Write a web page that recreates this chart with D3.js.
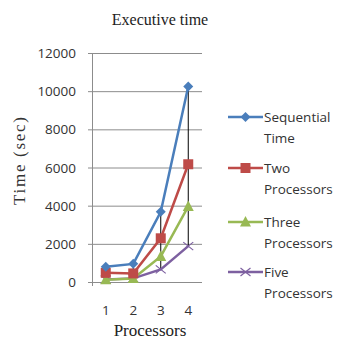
<!doctype html>
<html lang="en">
<head>
  <meta charset="utf-8">
  <style>
    body { margin: 0; background: #fff; }
    svg { display: block; }
  </style>
</head>
<body>
  <div id="chart"></div>
  <script src="https://d3js.org/d3.v7.min.js"></script>
  <script>
    // data
    var processors = ["1", "2", "3", "4"];
    var sequentialTime = [800, 950, 3680, 10250];
    var twoProcessors = [480, 450, 2290, 6170];
    var threeProcessors = [120, 180, 1340, 3960];
    var fiveProcessors = [130, 190, 660, 1880];
    var yTicks = [0, 2000, 4000, 6000, 8000, 10000, 12000];
    var seriesNames = [["Sequential", "Time"], ["Two", "Processors"], ["Three", "Processors"], ["Five", "Processors"]];

    var series = [
      { name: seriesNames[0], values: sequentialTime, color: "#4a7ebb", marker: "diamond" },
      { name: seriesNames[1], values: twoProcessors, color: "#be4b48", marker: "square" },
      { name: seriesNames[2], values: threeProcessors, color: "#98b954", marker: "triangle" },
      { name: seriesNames[3], values: fiveProcessors, color: "#7d60a0", marker: "x" }
    ];

    var width = 339, height = 339;
    var plot = { left: 92, right: 202, top: 53, bottom: 282 };
    var sans = "'Open Sans', Lato, sans-serif";

    var svg = d3.select("#chart").append("svg")
      .attr("width", width).attr("height", height);

    var x = d3.scaleBand().domain(processors).range([plot.left, plot.right]);
    var y = d3.scaleLinear().domain([0, 12000]).range([plot.bottom, plot.top]);

    // gridlines
    svg.append("g").selectAll("line").data(yTicks).enter().append("line")
      .attr("x1", plot.left - 4).attr("x2", plot.right)
      .attr("y1", d => y(d) + 0.5).attr("y2", d => y(d) + 0.5)
      .attr("stroke", "#8c8c8c").attr("stroke-width", 1);

    // y axis line
    svg.append("line")
      .attr("x1", plot.left + 0.5).attr("x2", plot.left + 0.5)
      .attr("y1", plot.top).attr("y2", plot.bottom + 4)
      .attr("stroke", "#8c8c8c");

    // y tick labels
    svg.append("g").selectAll("text").data(yTicks).enter().append("text")
      .attr("x", 76).attr("y", d => y(d) + 5)
      .attr("text-anchor", "end")
      .attr("font-family", sans)
      .attr("font-size", 13.5).attr("fill", "#333")
      .text(d => d);

    // x tick labels
    svg.append("g").selectAll("text").data(processors).enter().append("text")
      .attr("x", d => x(d) + x.bandwidth() / 2).attr("y", 315)
      .attr("text-anchor", "middle")
      .attr("font-family", sans)
      .attr("font-size", 13.5).attr("fill", "#333")
      .text(d => d);

    // high-low lines
    svg.append("g").selectAll("line").data(processors).enter().append("line")
      .attr("x1", d => x(d) + x.bandwidth() / 2).attr("x2", d => x(d) + x.bandwidth() / 2)
      .attr("y1", (d, i) => y(d3.max(series, s => s.values[i])))
      .attr("y2", (d, i) => y(d3.min(series, s => s.values[i])))
      .attr("stroke", "#000").attr("stroke-width", 1);

    var line = d3.line()
      .x((d, i) => x(processors[i]) + x.bandwidth() / 2)
      .y(d => y(d));

    function drawMarker(g, type, color) {
      if (type === "diamond") {
        g.append("path").attr("d", "M0,-5L5,0L0,5L-5,0Z").attr("fill", color);
      } else if (type === "square") {
        g.append("rect").attr("x", -5).attr("y", -5).attr("width", 10).attr("height", 10).attr("fill", color);
      } else if (type === "triangle") {
        g.append("path").attr("d", "M0,-6L5.5,4.5L-5.5,4.5Z").attr("fill", color);
      } else {
        g.append("path").attr("d", "M-5,-4L5,4M-5,4L5,-4")
          .attr("stroke", color).attr("stroke-width", 1.2).attr("fill", "none");
      }
    }

    series.slice().reverse().forEach(function(s) {
      var g = svg.append("g");
      g.append("path").datum(s.values)
        .attr("d", line)
        .attr("fill", "none").attr("stroke", s.color).attr("stroke-width", 2.5);
      s.values.forEach(function(v, i) {
        var m = g.append("g").attr("transform", "translate(" + (x(processors[i]) + x.bandwidth() / 2) + "," + y(v) + ")");
        drawMarker(m, s.marker, s.color);
      });
    });

    // legend
    var legendTop = [117, 168, 222, 272];
    series.forEach(function(s, i) {
      var ly = legendTop[i];
      var g = svg.append("g");
      g.append("line").attr("x1", 228).attr("x2", 263).attr("y1", ly).attr("y2", ly)
        .attr("stroke", s.color).attr("stroke-width", 2.5);
      var m = g.append("g").attr("transform", "translate(245.5," + ly + ")");
      drawMarker(m, s.marker, s.color);
      g.append("text").attr("x", 264).attr("y", ly + 5)
        .attr("font-family", sans)
        .attr("font-size", 13.5).attr("fill", "#333")
        .text(s.name[0]);
      g.append("text").attr("x", 264).attr("y", ly + 26)
        .attr("font-family", sans)
        .attr("font-size", 13.5).attr("fill", "#333")
        .text(s.name[1]);
    });

    // title and axis titles
    svg.append("text").attr("x", 160).attr("y", 25)
      .attr("text-anchor", "middle")
      .attr("font-family", "'Liberation Serif', serif")
      .attr("font-size", 16).attr("fill", "#222")
      .text("Executive time");

    svg.append("text").attr("x", 150).attr("y", 336)
      .attr("text-anchor", "middle")
      .attr("font-family", "'Liberation Serif', serif")
      .attr("font-size", 17).attr("fill", "#222")
      .text("Processors");

    svg.append("text")
      .attr("transform", "translate(25,161) rotate(-90)")
      .attr("text-anchor", "middle")
      .attr("font-family", "'Liberation Serif', serif")
      .attr("font-size", 17).attr("fill", "#333")
      .attr("textLength", 88).attr("lengthAdjust", "spacing")
      .text("Time (sec)");
  </script>
</body>
</html>
